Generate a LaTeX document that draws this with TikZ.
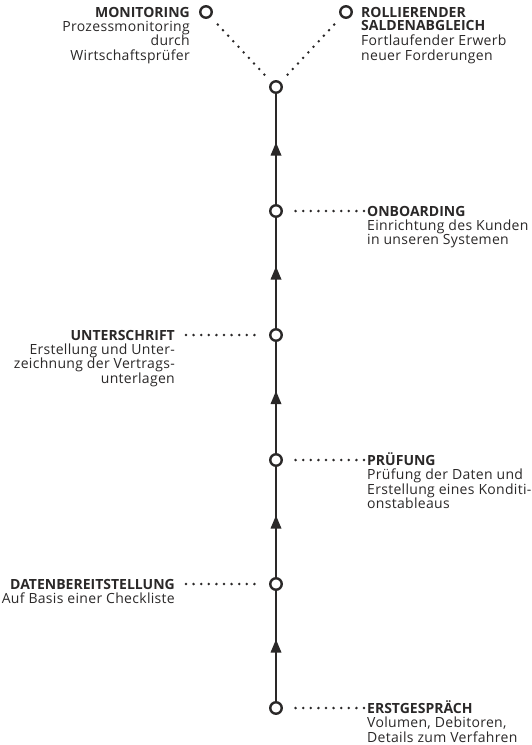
\documentclass[tikz,border=0pt]{standalone}
\usepackage{fontspec}
\setmainfont{Open Sans}
\newfontfamily\labelfont[LetterSpace=2.2]{Open Sans}
\usetikzlibrary{decorations.markings}
\definecolor{ink}{HTML}{2A2828}
\newcommand\steptitle[1]{{\normalfont\bfseries #1}}

\begin{document}
\begin{tikzpicture}[x=1pt, y=-1pt,
	stop/.style={circle, draw=ink, line width=2.4pt, fill=white, minimum size=11.5pt, inner sep=0pt},
	flow/.style={draw=ink, line width=2pt, postaction={decorate},
		decoration={markings, mark=at position 0.5 with {\fill[ink] (6.5pt,0) -- (-6.5pt,5.5pt) -- (-6.5pt,-5.5pt) -- cycle;}}},
	dots/.style={draw=ink, line width=2.8pt, line cap=round, dash pattern=on 0pt off 7.6pt},
	rlabel/.style={anchor=base west, inner sep=0pt, text=ink, font=\labelfont\fontsize{14}{12.8}\selectfont},
	llabel/.style={anchor=base east, inner sep=0pt, text=ink, font=\labelfont\fontsize{14}{12.8}\selectfont}]
	\useasboundingbox (0,0) rectangle (531,745);

	\node [stop] (top) at (276,87) {};
	\node [stop] (onb) at (276,211) {};
	\node [stop] (unt) at (276,335) {};
	\node [stop] (pruef) at (276,460) {};
	\node [stop] (daten) at (276,584) {};
	\node [stop] (erst) at (276,708) {};
	\node [stop] (mon) at (206,12) {};
	\node [stop] (roll) at (346,12) {};

	\draw [flow] (erst) -- (daten);
	\draw [flow] (daten) -- (pruef);
	\draw [flow] (pruef) -- (unt);
	\draw [flow] (unt) -- (onb);
	\draw [flow] (onb) -- (top);

	\draw [dots, shorten <=10pt, shorten >=9pt] (top) -- (mon);
	\draw [dots, shorten <=10pt, shorten >=9pt] (top) -- (roll);

	\coordinate (onbdot) at (364,211);
	\coordinate (untdot) at (186,335);
	\coordinate (pruefdot) at (364,460);
	\coordinate (datendot) at (186,584);
	\coordinate (erstdot) at (364,708);
	\draw [dots, shorten >=11pt] (onbdot) -- (onb);
	\draw [dots, shorten >=11pt] (untdot) -- (unt);
	\draw [dots, shorten >=11pt] (pruefdot) -- (pruef);
	\draw [dots, shorten >=11pt] (datendot) -- (daten);
	\draw [dots, shorten >=11pt] (erstdot) -- (erst);

	\node [llabel] (monlabel) at (190,17) {\begin{tabular}[t]{@{}r@{}}\steptitle{MONITORING}\\Prozessmonitoring\\durch\\Wirtschaftsprüfer\end{tabular}};
	\node [rlabel] (rolllabel) at (361,17) {\begin{tabular}[t]{@{}l@{}}\steptitle{ROLLIERENDER}\\\steptitle{SALDENABGLEICH}\\Fortlaufender Erwerb\\neuer Forderungen\end{tabular}};
	\node [rlabel] (onblabel) at (367,216) {\begin{tabular}[t]{@{}l@{}}\steptitle{ONBOARDING}\\Einrichtung des Kunden\\in unseren Systemen\end{tabular}};
	\node [llabel] (untlabel) at (175,340) {\begin{tabular}[t]{@{}r@{}}\steptitle{UNTERSCHRIFT}\\Erstellung und Unter-\\zeichnung der Vertrags-\\unterlagen\end{tabular}};
	\node [rlabel] (prueflabel) at (367,465) {\begin{tabular}[t]{@{}l@{}}\steptitle{PRÜFUNG}\\Prüfung der Daten und\\Erstellung eines Konditi-\\onstableaus\end{tabular}};
	\node [llabel] (datenlabel) at (175,589) {\begin{tabular}[t]{@{}r@{}}\steptitle{DATENBEREITSTELLUNG}\\Auf Basis einer Checkliste\end{tabular}};
	\node [rlabel] (erstlabel) at (367,713) {\begin{tabular}[t]{@{}l@{}}\steptitle{ERSTGESPRÄCH}\\Volumen, Debitoren,\\Details zum Verfahren\end{tabular}};
\end{tikzpicture}
\end{document}
